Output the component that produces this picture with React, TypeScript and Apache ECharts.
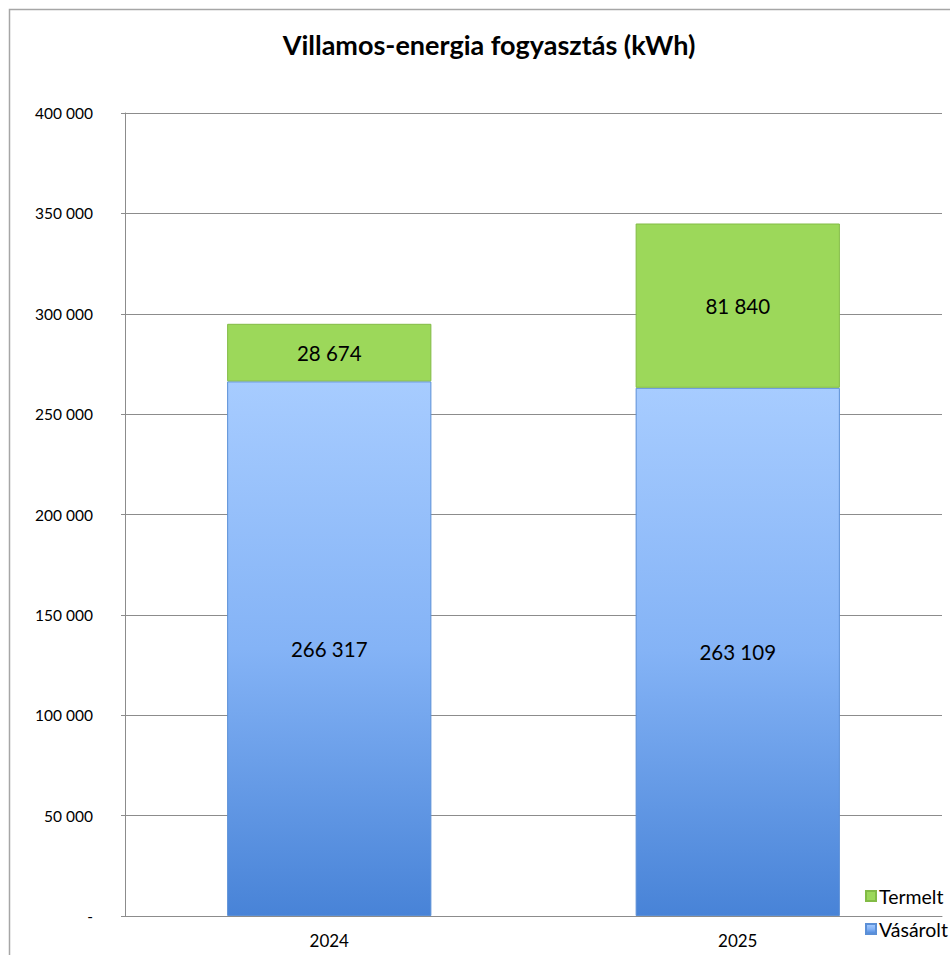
import React, { useEffect, useRef } from "react";
import * as echarts from "echarts";

const categories = ["2024", "2025"];
const vasarolt = [266317, 263109];
const termelt = [28674, 81840];
const yTicks = [0, 50000, 100000, 150000, 200000, 250000, 300000, 350000, 400000];

const FONT = "Lato, 'Open Sans', sans-serif";

function fmt(v: number): string {
  if (v === 0) return "-";
  return String(v).replace(/\B(?=(\d{3})+(?!\d))/g, " ");
}

const blueGrad = new echarts.graphic.LinearGradient(0, 0, 0, 1, [
  { offset: 0, color: "#a7ccff" },
  { offset: 0.5, color: "#84b3f6" },
  { offset: 1, color: "#4883d7" },
]);

export default function App() {
  const ref = useRef<HTMLDivElement>(null);
  useEffect(() => {
    if (!ref.current) return;
    const chart = echarts.init(ref.current, undefined, { renderer: "svg" });
    chart.setOption({
      animation: false,
      backgroundColor: "#ffffff",
      textStyle: { fontFamily: FONT },
      title: {
        text: "Villamos-energia fogyasztás (kWh)",
        left: 484,
        textAlign: "center",
        top: 26,
        textStyle: { fontFamily: FONT, fontWeight: "bold", fontSize: 27, color: "#000" },
      },
      graphic: [
        {
          type: "rect",
          shape: { x: 9.5, y: 9.5, width: 1200, height: 1200 },
          style: { fill: "none", stroke: "#a6a6a6", lineWidth: 1.5 },
          silent: true,
        },
      ],
      legend: {
        orient: "vertical",
        left: 860,
        top: 881,
        itemWidth: 10,
        itemHeight: 10,
        itemGap: 13,
        icon: "rect",
        data: ["Termelt", "Vásárolt"],
        textStyle: { fontFamily: FONT, fontSize: 19.5, color: "#000", lineHeight: 20, padding: [0, 0, 0, -2] },
      },
      grid: { left: 125, top: 113, width: 817, height: 803, containLabel: false },
      xAxis: {
        type: "category",
        data: categories,
        axisLine: { show: true, lineStyle: { color: "#8c8c8c", width: 1 } },
        axisTick: { show: false },
        axisLabel: { fontFamily: FONT, fontSize: 17, color: "#000", margin: 16 },
      },
      yAxis: {
        type: "value",
        min: 0,
        max: 400000,
        interval: 50000,
        axisLine: { show: true, lineStyle: { color: "#8c8c8c", width: 1 } },
        axisTick: { show: true, length: 4, lineStyle: { color: "#8c8c8c" } },
        splitLine: { show: true, lineStyle: { color: "#8c8c8c", width: 1 } },
        axisLabel: {
          fontFamily: FONT,
          fontSize: 15.5,
          color: "#000",
          margin: 32,
          formatter: (v: number) => (yTicks.includes(v) ? fmt(v) : ""),
        },
      },
      series: [
        {
          name: "Vásárolt",
          type: "bar",
          stack: "total",
          data: vasarolt,
          barWidth: "50%",
          itemStyle: { color: blueGrad, borderColor: "#5b8fd6", borderWidth: 1 },
          label: {
            show: true,
            position: "inside",
            formatter: (p: any) => fmt(p.value),
            fontFamily: FONT,
            fontSize: 20.5,
            color: "#000",
          },
        },
        {
          name: "Termelt",
          type: "bar",
          stack: "total",
          data: termelt,
          barWidth: "50%",
          itemStyle: { color: "#9cd85a", borderColor: "#82bb45", borderWidth: 1 },
          label: {
            show: true,
            position: "inside",
            formatter: (p: any) => fmt(p.value),
            fontFamily: FONT,
            fontSize: 20.5,
            color: "#000",
          },
        },
      ],
    });
    return () => chart.dispose();
  }, []);
  return (
    <div
      ref={ref}
      style={{ position: "absolute", left: 0, top: 0, width: 950, height: 955 }}
    />
  );
}
